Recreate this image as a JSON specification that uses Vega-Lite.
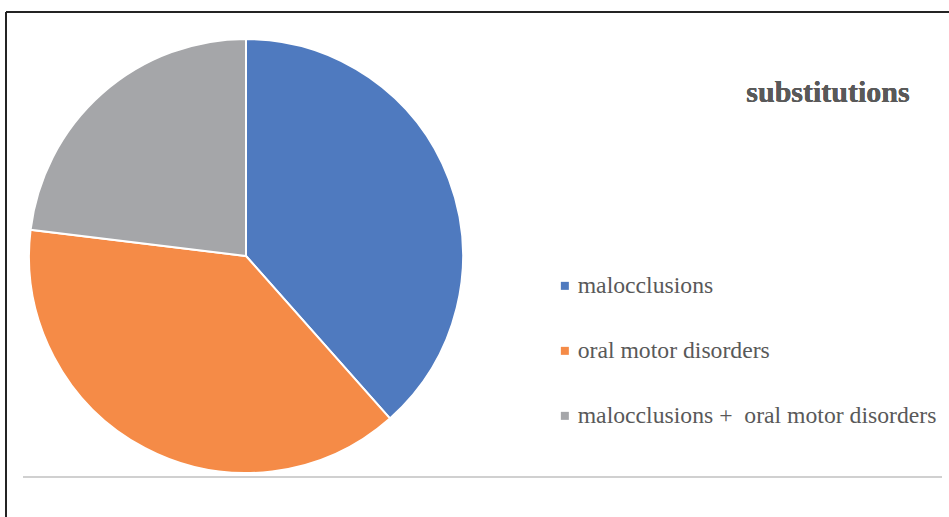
{
  "$schema": "https://vega.github.io/schema/vega-lite/v6.json",
  "width": 943,
  "height": 505,
  "padding": {"left": 6, "top": 12, "right": 0, "bottom": 0},
  "autosize": {"type": "none"},
  "background": "white",
  "view": {"stroke": null, "strokeWidth": 0, "strokeOpacity": 0},
  "config": {"view": {"stroke": null, "strokeWidth": 0, "strokeOpacity": 0}},
  "data": {
    "values": [
      {"group": "malocclusions", "count": 10, "order": 1},
      {"group": "oral motor disorders", "count": 10, "order": 2},
      {"group": "malocclusions + \u00a0oral motor disorders", "count": 6, "order": 3}
    ]
  },
  "layer": [
    {
      "mark": {"type": "arc", "x": 240, "y": 244, "outerRadius": 217, "stroke": "white", "strokeWidth": 2},
      "encoding": {
        "theta": {"field": "count", "type": "quantitative", "stack": true},
        "order": {"field": "order", "type": "quantitative"},
        "color": {
          "field": "group",
          "type": "nominal",
          "sort": ["malocclusions", "oral motor disorders", "malocclusions + \u00a0oral motor disorders"],
          "scale": {
            "domain": ["malocclusions", "oral motor disorders", "malocclusions + \u00a0oral motor disorders"],
            "range": ["#4f7abf", "#f58b47", "#a5a6a9"]
          },
          "legend": {
            "title": null,
            "orient": "none",
            "legendX": 547,
            "legendY": 262,
            "padding": 0,
            "symbolType": "square",
            "symbolSize": 64,
            "symbolStrokeWidth": 0,
            "labelFont": "Liberation Serif",
            "labelFontSize": 23.7,
            "labelColor": "#595959",
            "labelOffset": 1,
            "labelLimit": 500,
            "rowPadding": 40
          }
        }
      }
    },
    {
      "mark": {"type": "rule", "stroke": "#d0d0d0", "strokeWidth": 2},
      "encoding": {"x": {"value": 17}, "x2": {"value": 936}, "y": {"value": 465}}
    },
    {
      "mark": {"type": "rule", "stroke": "#222222", "strokeWidth": 1.5},
      "encoding": {"x": {"value": 0}, "x2": {"value": 943}, "y": {"value": 0}}
    },
    {
      "mark": {"type": "rule", "stroke": "#222222", "strokeWidth": 1.5},
      "encoding": {"x": {"value": 0}, "y": {"value": 0}, "y2": {"value": 505}}
    },
    {
      "mark": {"type": "text", "font": "Liberation Serif", "fontSize": 30, "fontWeight": "bold", "color": "#595959", "align": "center", "baseline": "middle"},
      "encoding": {"text": {"value": "substitutions"}, "x": {"value": 822}, "y": {"value": 81}}
    }
  ]
}
